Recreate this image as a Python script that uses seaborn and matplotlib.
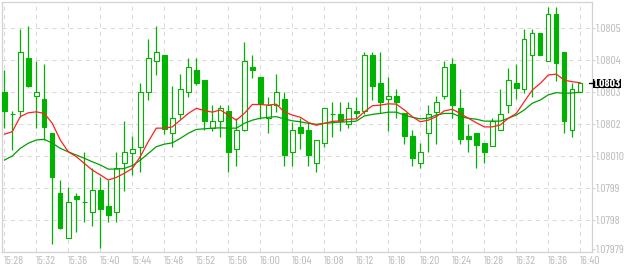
import numpy as np
import pandas as pd
import matplotlib
matplotlib.use("Agg")
import matplotlib.pyplot as plt
import matplotlib.transforms as mtransforms
from matplotlib.patches import Rectangle
import seaborn as sns

# ---------------- data ----------------
open_ = [1.080302, 1.080231, 1.080241, 1.080407, 1.080287, 1.080279, 1.080173, 1.079985, 1.079846, 1.079976,
         1.079957, 1.079925, 1.079995, 1.079945, 1.079925, 1.080080, 1.080111, 1.080130, 1.080300, 1.080397,
         1.080417, 1.080172, 1.080231, 1.080300, 1.080370, 1.080338, 1.080189, 1.080209, 1.080241, 1.080122,
         1.080182, 1.080378, 1.080347, 1.080219, 1.080260, 1.080279, 1.080112, 1.080191, 1.080182, 1.080080,
         1.080141, 1.080231, 1.080231, 1.080200, 1.080241, 1.080241, 1.080416, 1.080328, 1.080278, 1.080287,
         1.080234, 1.080163, 1.080080, 1.080172, 1.080239, 1.080287, 1.080387, 1.080250, 1.080163, 1.080172,
         1.080141, 1.080132, 1.080182, 1.080260, 1.080328, 1.080309, 1.080416, 1.080484, 1.080397, 1.080544,
         1.080425, 1.080182, 1.080300]
high = [1.080370, 1.080241, 1.080497, 1.080507, 1.080398, 1.080388, 1.080173, 1.080026, 1.080004, 1.079986,
        1.080113, 1.080062, 1.080035, 1.080025, 1.080113, 1.080210, 1.080163, 1.080328, 1.080466, 1.080507,
        1.080417, 1.080320, 1.080357, 1.080406, 1.080406, 1.080338, 1.080260, 1.080260, 1.080260, 1.080219,
        1.080457, 1.080417, 1.080347, 1.080286, 1.080357, 1.080300, 1.080206, 1.080219, 1.080203, 1.080151,
        1.080250, 1.080269, 1.080269, 1.080269, 1.080286, 1.080425, 1.080425, 1.080425, 1.080347, 1.080309,
        1.080234, 1.080182, 1.080141, 1.080260, 1.080287, 1.080397, 1.080406, 1.080309, 1.080200, 1.080172,
        1.080141, 1.080219, 1.080309, 1.080377, 1.080387, 1.080497, 1.080497, 1.080484, 1.080567, 1.080567,
        1.080425, 1.080328, 1.080328]
low = [1.080189, 1.080120, 1.080224, 1.080316, 1.080189, 1.080151, 1.079826, 1.079872, 1.079846, 1.079864,
       1.079896, 1.079883, 1.079814, 1.079896, 1.079896, 1.079992, 1.080042, 1.080051, 1.080276, 1.080355,
       1.080170, 1.080130, 1.080217, 1.080286, 1.080323, 1.080182, 1.080180, 1.080161, 1.080052, 1.080071,
       1.080180, 1.080346, 1.080216, 1.080172, 1.080239, 1.080071, 1.080071, 1.080122, 1.080071, 1.080052,
       1.080130, 1.080161, 1.080180, 1.080189, 1.080216, 1.080231, 1.080276, 1.080234, 1.080180, 1.080219,
       1.080138, 1.080071, 1.080062, 1.080112, 1.080138, 1.080278, 1.080219, 1.080138, 1.080112, 1.080062,
       1.080080, 1.080132, 1.080182, 1.080234, 1.080278, 1.080299, 1.080286, 1.080418, 1.080397, 1.080336,
       1.080172, 1.080161, 1.080300]
close = [1.080242, 1.080231, 1.080425, 1.080320, 1.080300, 1.080192, 1.080036, 1.079876, 1.079957, 1.079968,
         1.079957, 1.079995, 1.079935, 1.079918, 1.080062, 1.080112, 1.080122, 1.080300, 1.080406, 1.080425,
         1.080184, 1.080219, 1.080309, 1.080378, 1.080330, 1.080211, 1.080209, 1.080250, 1.080114, 1.080182,
         1.080397, 1.080371, 1.080263, 1.080260, 1.080300, 1.080104, 1.080182, 1.080174, 1.080104, 1.080151,
         1.080250, 1.080231, 1.080209, 1.080250, 1.080234, 1.080416, 1.080321, 1.080271, 1.080287, 1.080271,
         1.080164, 1.080096, 1.080112, 1.080231, 1.080269, 1.080378, 1.080261, 1.080153, 1.080153, 1.080134,
         1.080114, 1.080209, 1.080231, 1.080337, 1.080312, 1.080466, 1.080484, 1.080418, 1.080544, 1.080391,
         1.080211, 1.080309, 1.080328]
ma_fast = [1.080169, 1.080177, 1.080224, 1.080236, 1.080239, 1.080234, 1.080203, 1.080151, 1.080114, 1.080099,
           1.080078, 1.080057, 1.080042, 1.080026, 1.080034, 1.080047, 1.080062, 1.080099, 1.080146, 1.080188,
           1.080188, 1.080192, 1.080213, 1.080234, 1.080250, 1.080243, 1.080238, 1.080245, 1.080229, 1.080213,
           1.080234, 1.080262, 1.080262, 1.080260, 1.080263, 1.080239, 1.080229, 1.080222, 1.080206, 1.080197,
           1.080203, 1.080209, 1.080211, 1.080216, 1.080217, 1.080239, 1.080258, 1.080260, 1.080264, 1.080263,
           1.080245, 1.080224, 1.080208, 1.080213, 1.080224, 1.080242, 1.080247, 1.080234, 1.080219, 1.080205,
           1.080192, 1.080192, 1.080198, 1.080219, 1.080234, 1.080271, 1.080307, 1.080328, 1.080354, 1.080357,
           1.080338, 1.080333, 1.080330]
ma_slow = [1.080088, 1.080101, 1.080125, 1.080141, 1.080151, 1.080153, 1.080141, 1.080125, 1.080114, 1.080104,
           1.080094, 1.080083, 1.080073, 1.080060, 1.080060, 1.080062, 1.080071, 1.080088, 1.080109, 1.080130,
           1.080138, 1.080142, 1.080156, 1.080172, 1.080184, 1.080186, 1.080188, 1.080189, 1.080188, 1.080188,
           1.080203, 1.080213, 1.080219, 1.080222, 1.080224, 1.080217, 1.080211, 1.080208, 1.080203, 1.080200,
           1.080203, 1.080205, 1.080207, 1.080208, 1.080210, 1.080226, 1.080231, 1.080234, 1.080238, 1.080238,
           1.080229, 1.080222, 1.080217, 1.080219, 1.080229, 1.080234, 1.080234, 1.080224, 1.080219, 1.080216,
           1.080210, 1.080210, 1.080210, 1.080219, 1.080229, 1.080245, 1.080266, 1.080276, 1.080292, 1.080299,
           1.080297, 1.080298, 1.080300]
time_labels = ["15:28", "15:32", "15:36", "15:40", "15:44", "15:48", "15:52", "15:56", "16:00", "16:04",
               "16:08", "16:12", "16:16", "16:20", "16:24", "16:28", "16:32", "16:36", "16:40"]
price_ticks = [1.0805, 1.0804, 1.0803, 1.0802, 1.0801, 1.0800, 1.0799, 1.07981]
price_labels = ["1.0805", "1.0804", "1.0803", "1.0802", "1.08010", "1.0799", "1.0798", "1.07979"]
current_label = "1.0803"

# ---------------- styling ----------------
sns.set_style("white")
FONT = ["Barlow Condensed", "Archivo Narrow", "DejaVu Sans"]
plt.rcParams["font.family"] = FONT

CANDLE = "#00b300"
RED = "#ff2020"
GREEN_MA = "#00a000"
LIGHT = "#d2d2d2"
GRID = "#dadada"
TXT = "#bababa"
FS = 8.5

df = pd.DataFrame({"open": open_, "high": high, "low": low, "close": close,
                   "ma_fast": ma_fast, "ma_slow": ma_slow})
df["idx"] = np.arange(len(df))

fig = plt.figure(figsize=(6.24, 2.66), dpi=100)
ax = fig.add_axes([2 / 624, 14 / 266, 590 / 624, 250.5 / 266])

x = df["idx"].to_numpy()
o = df["open"].to_numpy()
c = df["close"].to_numpy()
up = c >= o

# wicks
ax.vlines(x, df["low"], df["high"], color=CANDLE, linewidth=0.9, zorder=3)
# bodies
ax.bar(x, np.abs(c - o), bottom=np.minimum(o, c), width=0.55,
       color=np.where(up, "white", CANDLE), edgecolor=CANDLE, linewidth=0.8, zorder=4)

# moving averages
sns.lineplot(data=df, x="idx", y="ma_slow", ax=ax, color=GREEN_MA, linewidth=0.9, zorder=5)
sns.lineplot(data=df, x="idx", y="ma_fast", ax=ax, color=RED, linewidth=0.9, zorder=5)

ax.set_xlim((2 - 4.3) / 8, (592 - 4.3) / 8)
ax.set_ylim(1.079801, 1.0805838)
ax.set_xlabel("")
ax.set_ylabel("")

ax.set_xticks(np.arange(0, len(df), 4))
ax.set_xticklabels(time_labels, ha="left")
ax.yaxis.tick_right()
ax.set_yticks(price_ticks)
ax.set_yticklabels(price_labels)

ax.grid(True, color=GRID, linestyle=(0, (4, 4)), linewidth=0.75, zorder=0)
ax.set_axisbelow(True)
ax.yaxis.get_gridlines()[-1].set_visible(False)

for s in ax.spines.values():
    s.set_color(LIGHT)
    s.set_linewidth(0.9)
ax.tick_params(axis="x", length=2, width=0.75, color=LIGHT, pad=1.0, labelsize=FS, labelcolor=TXT)
ax.tick_params(axis="y", length=2, width=0.75, color=LIGHT, pad=1, labelsize=FS, labelcolor=TXT)

# current price marker
last = df["close"].iloc[-1]
blend = mtransforms.blended_transform_factory(fig.transFigure, ax.transData)
half = 4.8 / 32 * 0.0001
ax.add_patch(Rectangle((593 / 624, last - half), 28 / 624, 2 * half, transform=blend,
                       facecolor="black", edgecolor="none", clip_on=False, zorder=10))
ax.plot([589 / 624, 594 / 624], [last, last], transform=blend, color="black",
        linewidth=1.0, clip_on=False, zorder=10)
ax.text(607 / 624, last, current_label, transform=blend, color="white", fontsize=FS,
        fontweight="bold", ha="center", va="center_baseline", clip_on=False, zorder=11)

fig.savefig("out.png", dpi=100)
